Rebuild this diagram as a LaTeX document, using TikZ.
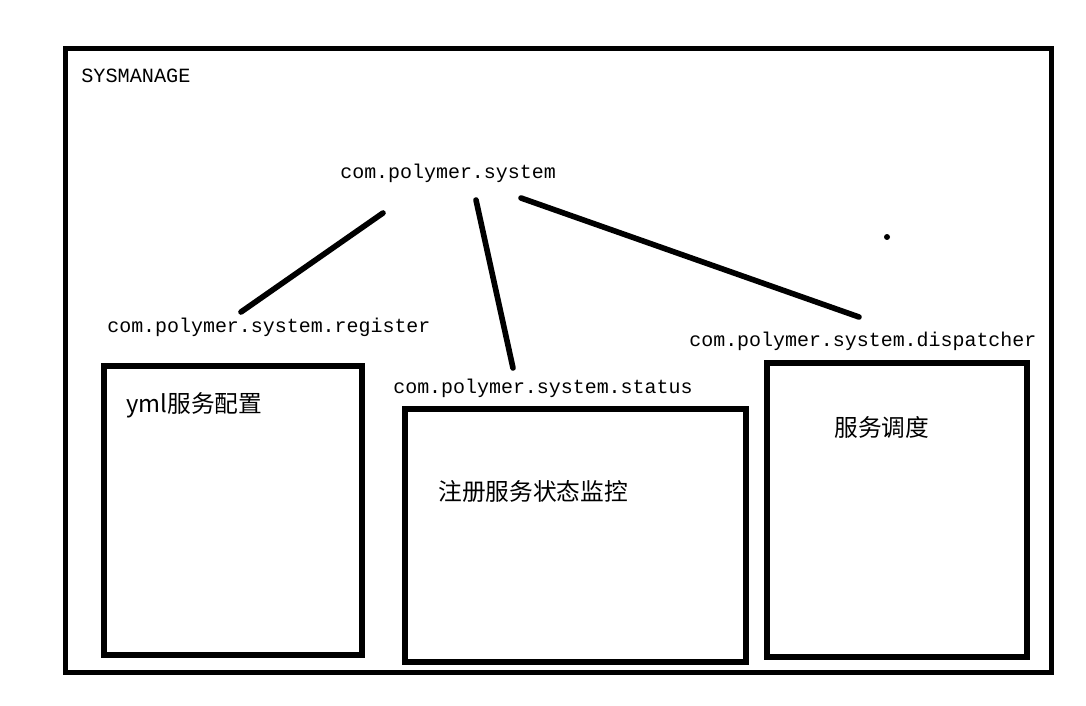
\documentclass[tikz,border=0pt]{standalone}
\usepackage{fontspec}
\newfontfamily\latn{Liberation Mono}
\newfontfamily\cjk{Noto Sans CJK SC}
\usetikzlibrary{positioning}
\tikzstyle{Marco}=[rectangle, draw=black, line width=2.8pt, inner sep=0pt]
\tikzstyle{ModuloBox}=[rectangle, draw=black, line width=3pt, inner sep=0pt]
\tikzstyle{PaqueteTxt}=[anchor=base west, inner sep=0pt, font=\latn\fontsize{11.35pt}{13pt}\selectfont]
\tikzstyle{ModuloTxt}=[anchor=base west, inner sep=0pt, font=\cjk\fontsize{13.5pt}{16pt}\selectfont]
\tikzstyle{Enlace}=[line width=3.2pt, line cap=round]

\begin{document}
\begin{tikzpicture}[x=0.02cm, y=-0.02cm]
			\useasboundingbox (0,0) rectangle (1086,706);

			%Marco
			\node[Marco, minimum width=19.74cm, minimum height=12.5cm]	(frame)	at (558.5,360.5)	{};
			\node[PaqueteTxt, font=\latn\fontsize{11.5pt}{14pt}\selectfont]	(sysmanage)	at (81,83)	{SYSMANAGE};

			%Paquetes
			\node[PaqueteTxt]	(system)		at (340,178)	{com.polymer.system};
			\node[PaqueteTxt]	(register)	at (107,332)	{com.polymer.system.register};
			\node[PaqueteTxt]	(status)		at (393,393)	{com.polymer.system.status};
			\node[PaqueteTxt]	(dispatcher)	at (689,346)	{com.polymer.system.dispatcher};

			%Modulos
			\node[ModuloBox, minimum width=5.16cm, minimum height=5.78cm]	(registerBox)	at (233,510.5)	{};
			\node[ModuloBox, minimum width=6.82cm, minimum height=5.06cm]	(statusBox)		at (575.5,535.5)	{};
			\node[ModuloBox, minimum width=5.2cm, minimum height=5.88cm]	(dispatcherBox)	at (897,510)	{};

			\node[ModuloTxt]	(registerTxt)	at (126,412)	{yml服务配置};
			\node[ModuloTxt]	(statusTxt)		at (438,500)	{注册服务状态监控};
			\node[ModuloTxt]	(dispatcherTxt)	at (834,436)	{服务调度};

			%Extremos de las lineas
			\coordinate	(sysA)	at (383,213);
			\coordinate	(sysB)	at (476,200);
			\coordinate	(sysC)	at (521,198);
			\coordinate	(regEnd)	at (241,312);
			\coordinate	(staEnd)	at (513,368);
			\coordinate	(disEnd)	at (859,317);

			%Lineas
			\draw[Enlace] (sysA) -- (regEnd);
			\draw[Enlace] (sysB) -- (staEnd);
			\draw[Enlace] (sysC) -- (disEnd);

			%Punto
			\coordinate	(dot)	at (887,237);
			\fill (dot) circle[radius=0.06cm];

		\end{tikzpicture}
\end{document}
